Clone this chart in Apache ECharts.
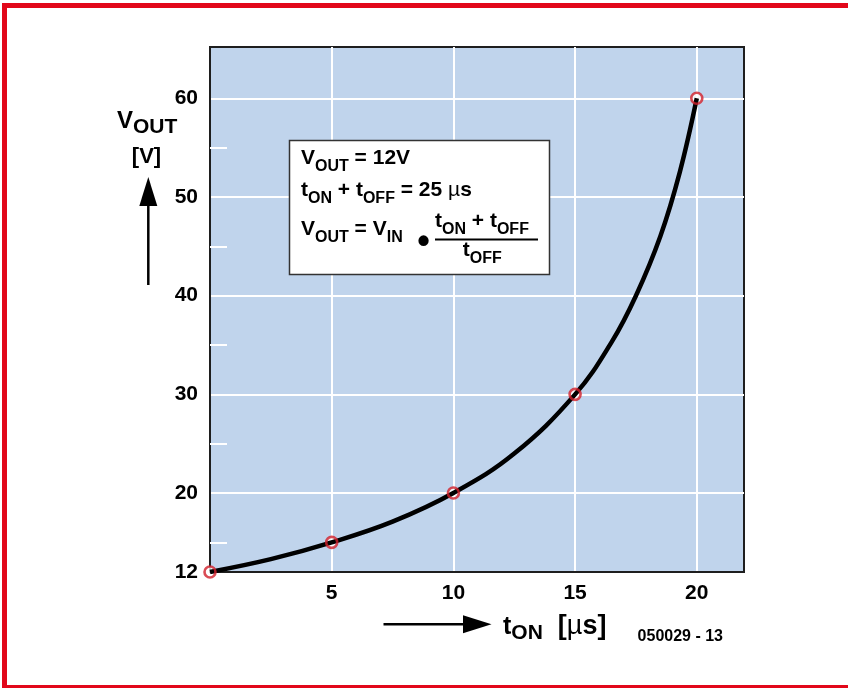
<!DOCTYPE html>
<html>
<head>
<meta charset="utf-8">
<script src="https://cdn.jsdelivr.net/npm/echarts@6/dist/echarts.min.js"></script>
<style>
html,body{margin:0;padding:0;background:#fff;}
#chart{width:848px;height:688px;}
</style>
</head>
<body>
<div id="chart"></div>
<script>
// t_on [us] and Vout [V]
const curveT = [0, 2.5, 5, 7.5, 10, 12.5, 15, 16.5, 17.5, 18.5, 19.3, 20];
const curveV = [12, 13.3, 15, 17.1, 20, 24, 30, 35.3, 40, 46, 52.5, 60];
// circled points
const markT = [0, 5, 10, 15, 20];
const markV = [12, 15, 20, 30, 60];
// tick labels
const yLabels = [12, 20, 30, 40, 50, 60];
const yMinor = [15, 25, 35, 45, 55];
const xLabels = [5, 10, 15, 20];

const FONT = '"Liberation Sans", Arial, Helvetica, sans-serif';
const RED = '#e2071a';

const chart = echarts.init(document.getElementById('chart'));

const curve = curveT.map((t, i) => [t, curveV[i]]);
const marks = markT.map((t, i) => [t, markV[i]]);

// rich text helper for subscripts
function richText(x, y, text, size, subSize, lh, subLh, muSize) {
    return {
        type: 'text', x: x, y: y, z: 100,
        style: {
            text: text,
            fill: '#000',
            font: 'bold ' + size + 'px ' + FONT,
            lineHeight: lh,
            verticalAlign: 'top',
            align: 'left',
            rich: {
                s: {fontSize: subSize, fontWeight: 'bold', fontFamily: FONT, fill: '#000', lineHeight: subLh, verticalAlign: 'bottom'},
                b: {fontSize: muSize || size, fontWeight: 'bold', fontFamily: FONT, fill: '#000', lineHeight: lh},
                mu: {fontSize: muSize || size, fontWeight: 'normal', fontFamily: FONT, fill: '#000', lineHeight: lh}
            }
        }
    };
}

chart.setOption({
    animation: false,
    backgroundColor: '#fff',
    grid: {
        left: 210, right: 104, top: 47, bottom: 116,
        show: true,
        backgroundColor: '#c0d4ec',
        borderColor: '#1e1e1e',
        borderWidth: 2
    },
    xAxis: {
        type: 'value',
        min: 0, max: 21.94, interval: 5,
        axisLine: {show: true, lineStyle: {color: '#1e1e1e', width: 2}},
        axisTick: {show: false},
        axisLabel: {
            customValues: xLabels,
            color: '#000', fontSize: 21, fontWeight: 'bold', fontFamily: FONT, margin: 11
        },
        splitLine: {show: true, showMinLine: false, showMaxLine: false, lineStyle: {color: '#fff', width: 2}}
    },
    yAxis: [{
        type: 'value',
        min: 12, max: 65.2,
        axisLine: {show: true, lineStyle: {color: '#1e1e1e', width: 2}},
        axisTick: {show: false},
        axisLabel: {
            customValues: yLabels,
            color: '#000', fontSize: 21, fontWeight: 'bold', fontFamily: FONT, margin: 12
        },
        splitLine: {show: true, showMinLine: false, showMaxLine: false, lineStyle: {color: '#fff', width: 2}}
    }, {
        type: 'value',
        position: 'left',
        min: 12, max: 65.2,
        axisLine: {show: false},
        axisLabel: {show: false},
        splitLine: {show: false},
        axisTick: {show: true, inside: true, length: 17, customValues: yMinor, lineStyle: {color: '#fff', width: 2}}
    }],
    series: [{
        type: 'scatter',
        data: marks,
        symbolSize: 11,
        clip: false,
        z: 2,
        itemStyle: {color: '#fff'}
    }, {
        type: 'line',
        data: curve,
        smooth: 0.4,
        showSymbol: false,
        z: 3,
        lineStyle: {color: '#000', width: 4.5}
    }, {
        type: 'scatter',
        data: marks,
        symbolSize: 11,
        clip: false,
        z: 4,
        itemStyle: {color: 'rgba(0,0,0,0)', borderColor: '#d11f2a', borderWidth: 2.6}
    }],
    graphic: [
        // red frame
        {type: 'rect', z: 100, shape: {x: 4.5, y: 5.5, width: 900, height: 682},
            style: {fill: 'none', stroke: RED, lineWidth: 5}},
        // y axis title and arrow
        richText(117, 104, 'V{s|OUT}', 24, 21, 34, 20),
        {type: 'text', x: 146.5, y: 157, z: 100,
            style: {text: '[V]', fill: '#000', font: 'bold 22px ' + FONT, align: 'center', verticalAlign: 'middle'}},
        {type: 'line', z: 100, shape: {x1: 148.3, y1: 285, x2: 148.3, y2: 200},
            style: {stroke: '#000', lineWidth: 2.5}},
        {type: 'polygon', z: 100, shape: {points: [[148.3, 177], [139.3, 206], [157.3, 206]]},
            style: {fill: '#000'}},
        // x axis title and arrow
        {type: 'line', z: 100, shape: {x1: 383.5, y1: 624.3, x2: 470, y2: 624.3},
            style: {stroke: '#000', lineWidth: 2.5}},
        {type: 'polygon', z: 100, shape: {points: [[491.5, 624.3], [463, 615.3], [463, 633.3]]},
            style: {fill: '#000'}},
        richText(503, 610, 't{s|ON}{b|  [}{mu|\u00b5}{b|s]}', 25, 21, 34, 20, 27),
        {type: 'text', x: 637.6, y: 637, z: 100,
            style: {text: '050029 - 13', fill: '#000', font: 'bold 16px ' + FONT, align: 'left', verticalAlign: 'middle'}},
        // formula box
        {type: 'rect', z: 99, shape: {x: 289.5, y: 140.5, width: 260, height: 134},
            style: {fill: '#fff', stroke: '#333', lineWidth: 1.5}},
        richText(301, 142, 'V{s|OUT} = 12V', 21, 16, 33, 18),
        richText(301, 174, 't{s|ON} + t{s|OFF} = 25 {mu|\u00b5}s', 21, 16, 33, 18),
        richText(301, 213, 'V{s|OUT} = V{s|IN}', 21, 16, 33, 18),
        {type: 'text', x: 423.5, y: 243, z: 100,
            style: {text: '\u2022', fill: '#000', font: 'bold 36px ' + FONT, align: 'center', verticalAlign: 'middle'}},
        richText(435, 205, 't{s|ON} + t{s|OFF}', 21, 16, 33, 18),
        {type: 'line', z: 100, shape: {x1: 435, y1: 239.5, x2: 538, y2: 239.5},
            style: {stroke: '#000', lineWidth: 2}},
        richText(462.7, 234, 't{s|OFF}', 21, 16, 33, 18)
    ]
});
</script>
</body>
</html>
